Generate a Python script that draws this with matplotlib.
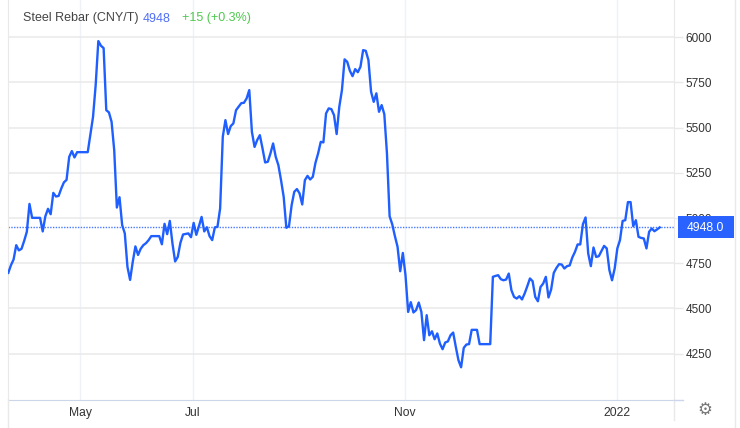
import matplotlib
matplotlib.use("Agg")
import matplotlib.pyplot as plt
from matplotlib.patches import Rectangle
from matplotlib.lines import Line2D

prices = [
 4697,4739,4771,4850,4821,4830,4874,4924,5078,5001,5001,5001,5001,4926,5010,5051,5021,5139,5119,5122,
 5163,5197,5211,5338,5370,5335,5364,5364,5364,5364,5364,5460,5559,5735,5978,5952,5939,5596,5584,5532,
 5375,5058,5115,4961,4915,4730,4658,4758,4843,4796,4830,4850,4861,4878,4900,4900,4900,4900,4855,4968,
 4911,4984,4859,4760,4785,4863,4909,4912,4915,4894,4973,4907,4955,5006,4926,4949,4900,4878,4948,4952,
 5053,5449,5541,5464,5508,5523,5596,5615,5635,5637,5661,5707,5476,5393,5431,5458,5385,5307,5311,5357,
 5412,5338,5292,5209,5117,4946,4955,5071,5145,5160,5136,5075,5209,5233,5213,5228,5305,5357,5421,5418,
 5578,5606,5602,5569,5464,5615,5707,5877,5863,5814,5784,5823,5806,5836,5928,5924,5873,5698,5642,5689,
 5587,5624,5574,5357,5010,4965,4900,4841,4706,4807,4684,4481,4535,4478,4491,4533,4481,4325,4463,4352,
 4374,4330,4362,4306,4275,4312,4318,4352,4367,4288,4214,4175,4282,4301,4303,4382,4382,4382,4303,4303,
 4303,4303,4303,4675,4680,4684,4662,4656,4660,4693,4601,4564,4555,4568,4550,4583,4623,4666,4651,4564,
 4540,4619,4638,4675,4561,4605,4697,4724,4745,4743,4721,4734,4738,4782,4813,4854,4854,4966,5003,4804,
 4734,4837,4785,4789,4818,4846,4832,4712,4656,4721,4832,4878,4984,4988,5088,5088,4955,4988,4896,4890,
 4887,4832,4924,4942,4927,4937,4948,
]
y_ticks = [4250, 4500, 4750, 5000, 5250, 5500, 5750, 6000]
x_tick_pos = [27.1, 69.7, 149.8, 229.9]
x_tick_labels = ["May", "Jul", "Nov", "2022"]
last_price = 4948
title = "Steel Rebar (CNY/T)"
last_text = "4948"
change_text = "+15 (+0.3%)"

plt.rcParams["font.family"] = ["Liberation Sans", "DejaVu Sans"]
W, H = 740, 428
fig = plt.figure(figsize=(W / 100, H / 100), dpi=100, facecolor="white")
L, R, T, B = 8, 674, 0, 399.5
ax = fig.add_axes([L / W, 1 - B / H, (R - L) / W, (B - T) / H])
ax.set_xlim(-0.11, 251.4)
ax.set_ylim(3997, 6205)

GRID = "#e9e9ea"
ax.set_yticks(y_ticks)
ax.set_xticks(x_tick_pos)
ax.set_xticklabels(x_tick_labels)
ax.yaxis.tick_right()
ax.tick_params(axis="y", length=6.5, width=1, color=GRID, labelsize=8.5, labelcolor="#333333", pad=2)
ax.tick_params(axis="x", length=0, labelsize=8.7, labelcolor="#333333", pad=5.5)
ax.grid(axis="y", color=GRID, lw=1.1)
ax.grid(axis="x", color="#eef2f6", lw=1)
ax.set_axisbelow(True)
ax.spines["top"].set_visible(False)
ax.spines["left"].set_color(GRID)
ax.spines["right"].set_color(GRID)
ax.spines["bottom"].set_color("#ccd6eb")

ax.axhline(last_price, color="#2962ff", lw=1, ls=(0, (1, 1)), alpha=0.85, zorder=2)
ax.plot(range(len(prices)), prices, color="#1f5fff", lw=1.7, zorder=3, solid_joinstyle="round")

def px(x, y):
    return x / W, 1 - y / H

# extensions of the frame outside the axes
fig.add_artist(Line2D([8 / W, 8 / W], [0, 1 - 399 / H], color=GRID, lw=1))
fig.add_artist(Line2D([674 / W, 674 / W], [1 - 420 / H, 1 - 399 / H], color=GRID, lw=1))
fig.add_artist(Line2D([735 / W, 735 / W], [0, 1], color=GRID, lw=1))
fig.add_artist(Line2D([674 / W, 683 / W], [1 - 399.5 / H, 1 - 399.5 / H], color="#ccd6eb", lw=1))

# last-price flag
fig.add_artist(Rectangle(px(678, 238.5), 56 / W, 22 / H, transform=fig.transFigure,
                         facecolor="#2962ff", edgecolor="none", zorder=5))
fig.text(*px(705.5, 228), f"{last_price:.1f}", color="white", fontsize=8.7, ha="center",
         va="center", zorder=6)

# header
fig.text(*px(23, 18.5), title, color="#444444", fontsize=9, va="center")
fig.text(*px(143, 18.5), last_text, color="#4f6ef7", fontsize=9, va="center")
fig.text(*px(182, 18.5), change_text, color="#4fc94f", fontsize=9, va="center")

# settings icon
fig.text(*px(705, 410), "\u2699", family="DejaVu Sans", color="#777777", fontsize=12,
         ha="center", va="center")

fig.savefig("out.png", dpi=100)
